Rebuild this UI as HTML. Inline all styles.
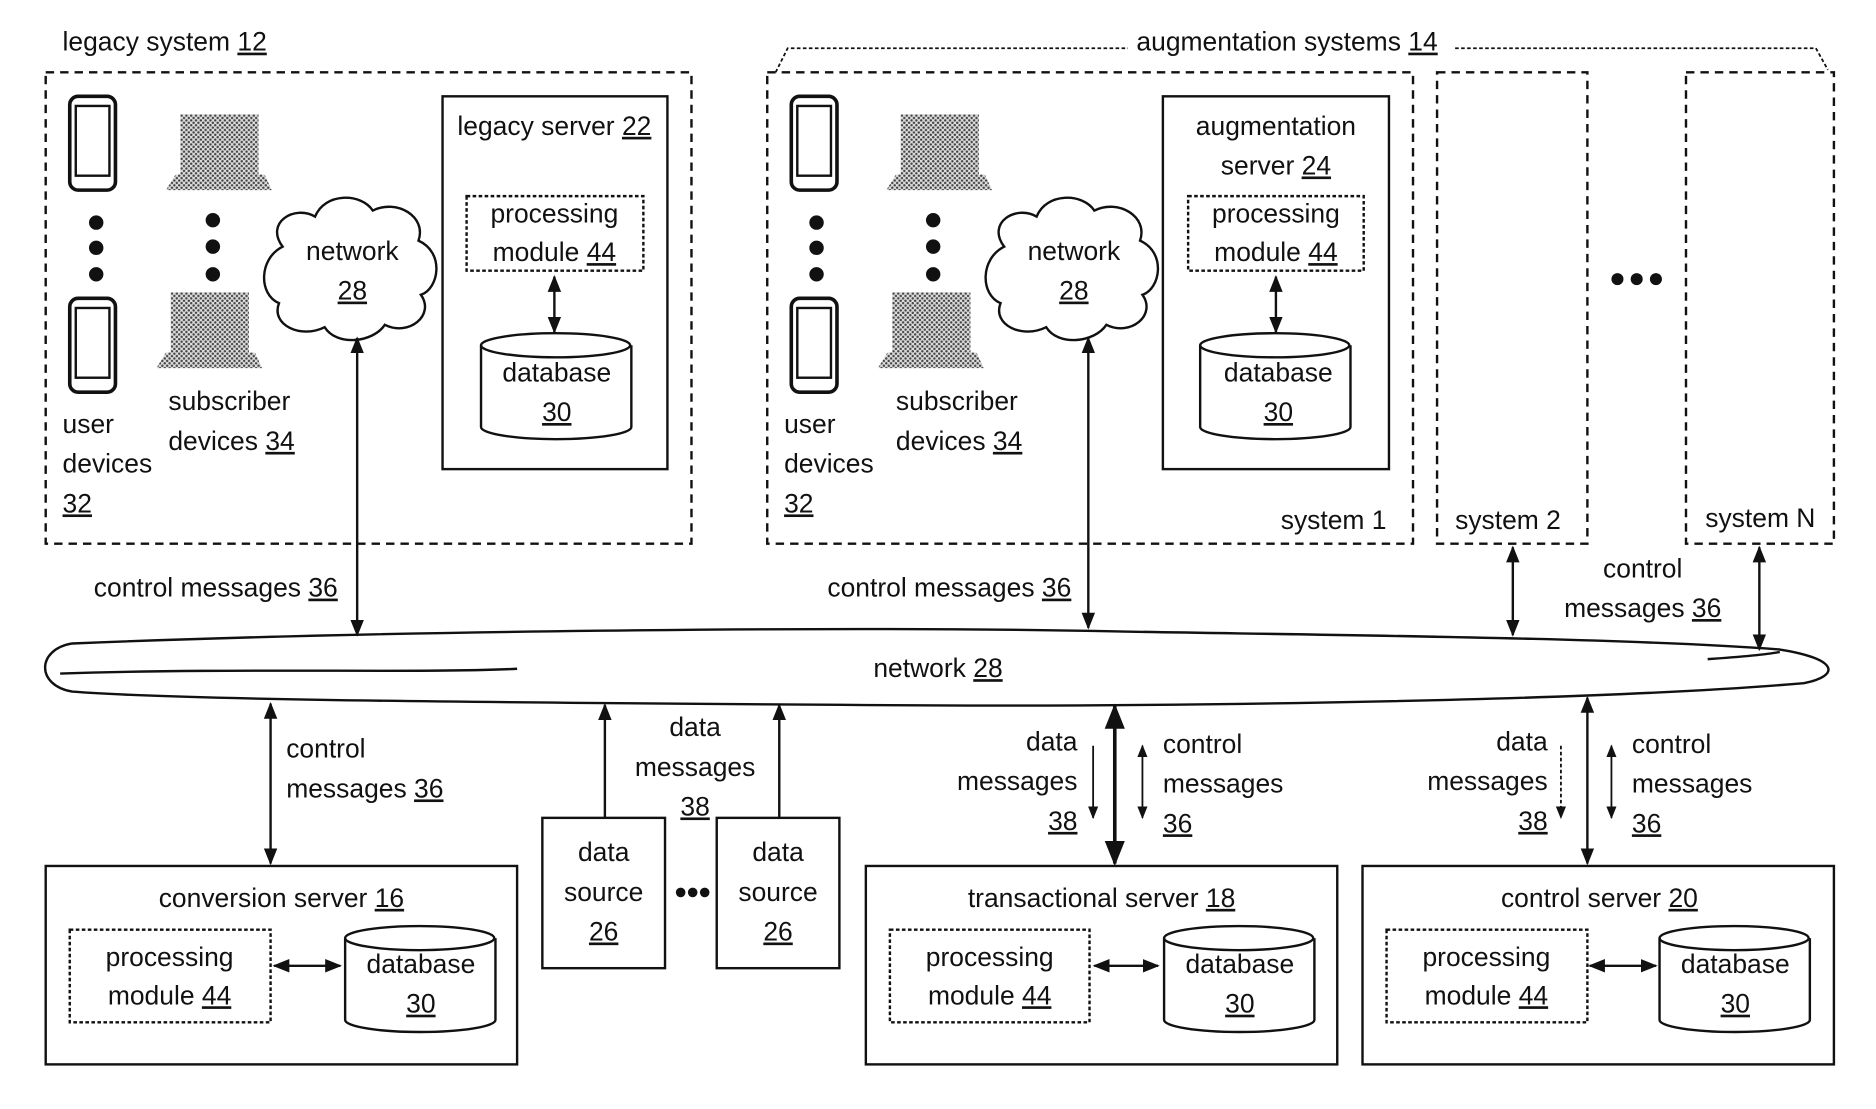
<!DOCTYPE html>
<html><head><meta charset="utf-8"><style>
html,body{margin:0;padding:0;background:#fff;}
svg{display:block;}
text{font-family:"Liberation Sans",sans-serif;font-size:22px;fill:#111;}
.u{text-decoration:underline;}
</style></head><body>
<svg width="1876" height="1109" viewBox="0 0 1560 922" xmlns="http://www.w3.org/2000/svg">
<defs>
<marker id="a" viewBox="0 0 10 10" refX="9" refY="5" markerWidth="7" markerHeight="7" orient="auto-start-reverse"><path d="M0,1 L10,5 L0,9 z" fill="#111"/></marker>
<pattern id="p" width="4" height="4" patternUnits="userSpaceOnUse"><rect width="4" height="4" fill="#ddd"/><circle cx="1" cy="1" r="1" fill="#444"/><circle cx="3" cy="3" r="1" fill="#444"/></pattern>
<g id="phone"><rect x="0" y="0" width="38" height="78" rx="7" fill="#fff" stroke="#111" stroke-width="3"/><rect x="5" y="8" width="28" height="58" fill="#fff" stroke="#111" stroke-width="2"/></g>
<g id="lap1"><rect x="12" y="0" width="65" height="50" fill="url(#p)"/><path d="M8,50 L82,50 L88,63 L0,63 z" fill="url(#p)"/></g>
</defs>
<g fill="none" stroke="#111" stroke-width="2">
<rect x="38" y="60" width="537" height="392" stroke-dasharray="7,5"/>
<rect x="368" y="80" width="187" height="310"/>
<rect x="388" y="163" width="147" height="62" stroke-dasharray="3,2"/>
<rect x="638" y="60" width="537" height="392" stroke-dasharray="7,5"/>
<rect x="967" y="80" width="188" height="310"/>
<rect x="988" y="163" width="146" height="62" stroke-dasharray="3,2"/>
<rect x="1195" y="60" width="125" height="392" stroke-dasharray="7,5"/>
<rect x="1402" y="60" width="123" height="392" stroke-dasharray="7,5"/>
<path d="M645,60 L655,40 L938,40 M1210,40 L1510,40 L1520,58" stroke-dasharray="3,2" stroke-width="1.5"/>
<rect x="38" y="720" width="392" height="165"/>
<rect x="58" y="773" width="167" height="77" stroke-dasharray="3,2"/>
<rect x="451" y="680" width="102" height="125"/>
<rect x="596" y="680" width="102" height="125"/>
<rect x="720" y="720" width="392" height="165"/>
<rect x="740" y="773" width="166" height="77" stroke-dasharray="3,2"/>
<rect x="1133" y="720" width="392" height="165"/>
<rect x="1153" y="773" width="167" height="77" stroke-dasharray="3,2"/>
<path d="M60,535 C300,525 700,520 930,525 C1100,528 1350,530 1480,540 C1530,548 1530,562 1500,568 C1300,585 900,588 700,586 C400,584 150,582 60,575 C30,570 30,540 60,535 z" fill="#fff"/>
<path d="M50,560 C200,555 350,560 430,556"/>
<path d="M1420,548 C1450,546 1470,544 1480,542"/>
<path d="M235,205 C220,185 245,170 262,180 C270,160 300,160 310,175 C330,165 355,180 348,200 C370,210 365,240 350,245 C362,262 340,280 320,270 C310,285 280,288 270,272 C250,282 225,270 232,252 C215,245 215,215 235,205 z" fill="#fff"/>
<path d="M835,205 C820,185 845,170 862,180 C870,160 900,160 910,175 C930,165 955,180 948,200 C970,210 965,240 950,245 C962,262 940,280 920,270 C910,285 880,288 870,272 C850,282 825,270 832,252 C815,245 815,215 835,205 z" fill="#fff"/>
<g id="cyl"><path d="M400,287 L400,355 A62,10 0 0 0 525,355 L525,287"/><ellipse cx="462" cy="287" rx="62" ry="10"/></g>
<use href="#cyl" x="598"/>
<use href="#cyl" x="-113" y="493"/>
<use href="#cyl" x="568" y="493"/>
<use href="#cyl" x="980" y="493"/>
<g marker-start="url(#a)" marker-end="url(#a)">
<line x1="461" y1="230" x2="461" y2="276"/>
<line x1="1061" y1="230" x2="1061" y2="276"/>
<line x1="297" y1="281" x2="297" y2="528"/>
<line x1="905" y1="281" x2="905" y2="522"/>
<line x1="1258" y1="455" x2="1258" y2="528"/>
<line x1="1463" y1="455" x2="1463" y2="540"/>
<line x1="225" y1="585" x2="225" y2="718"/>
<line x1="927" y1="587" x2="927" y2="718" stroke-width="3"/>
<line x1="1320" y1="580" x2="1320" y2="718"/>
<line x1="228" y1="803" x2="283" y2="803"/>
<line x1="910" y1="803" x2="963" y2="803"/>
<line x1="1322" y1="803" x2="1377" y2="803"/>
<line x1="950" y1="620" x2="950" y2="680" stroke-width="1.5"/>
<line x1="1340" y1="620" x2="1340" y2="680" stroke-width="1.5"/>
</g>
<g marker-end="url(#a)">
<line x1="503" y1="680" x2="503" y2="586"/>
<line x1="648" y1="680" x2="648" y2="586"/>
<line x1="909" y1="620" x2="909" y2="680" stroke-width="1.5"/>
<line x1="1298" y1="620" x2="1298" y2="680" stroke-width="1.5" stroke-dasharray="3,2"/>
</g>
</g>
<use href="#phone" x="58" y="80"/><use href="#phone" x="58" y="248"/>
<use href="#phone" x="658" y="80"/><use href="#phone" x="658" y="248"/>
<use href="#lap1" x="138" y="95"/><use href="#lap1" x="130" y="243"/>
<use href="#lap1" x="737" y="95"/><use href="#lap1" x="730" y="243"/>
<g fill="#111">
<circle cx="80" cy="185" r="6"/><circle cx="80" cy="206" r="6"/><circle cx="80" cy="228" r="6"/>
<circle cx="177" cy="183" r="6"/><circle cx="177" cy="205" r="6"/><circle cx="177" cy="228" r="6"/>
<circle cx="679" cy="185" r="6"/><circle cx="679" cy="206" r="6"/><circle cx="679" cy="228" r="6"/>
<circle cx="776" cy="183" r="6"/><circle cx="776" cy="205" r="6"/><circle cx="776" cy="228" r="6"/>
<circle cx="1345" cy="232" r="5"/><circle cx="1361" cy="232" r="5"/><circle cx="1377" cy="232" r="5"/>
<circle cx="566" cy="742" r="4"/><circle cx="576" cy="742" r="4"/><circle cx="586" cy="742" r="4"/>
</g>
<text x="52" y="42">legacy system <tspan class="u">12</tspan></text>
<text x="945" y="42">augmentation systems <tspan class="u">14</tspan></text>
<text x="52" y="360">user</text><text x="52" y="393">devices</text><text x="52" y="426" class="u">32</text>
<text x="140" y="341">subscriber</text><text x="140" y="374">devices <tspan class="u">34</tspan></text>
<text x="652" y="360">user</text><text x="652" y="393">devices</text><text x="652" y="426" class="u">32</text>
<text x="745" y="341">subscriber</text><text x="745" y="374">devices <tspan class="u">34</tspan></text>
<g text-anchor="middle">
<text x="293" y="216">network</text><text x="293" y="249" class="u">28</text>
<text x="893" y="216">network</text><text x="893" y="249" class="u">28</text>
<text x="461" y="112">legacy server <tspan class="u">22</tspan></text>
<text x="461" y="185">processing</text><text x="461" y="217">module <tspan class="u">44</tspan></text>
<text x="463" y="317">database</text><text x="463" y="350" class="u">30</text>
<text x="1061" y="112">augmentation</text><text x="1061" y="145">server <tspan class="u">24</tspan></text>
<text x="1061" y="185">processing</text><text x="1061" y="217">module <tspan class="u">44</tspan></text>
<text x="1063" y="317">database</text><text x="1063" y="350" class="u">30</text>
<text x="780" y="563">network <tspan class="u">28</tspan></text>
<text x="578" y="612">data</text><text x="578" y="645">messages</text><text x="578" y="678" class="u">38</text>
<text x="502" y="716">data</text><text x="502" y="749">source</text><text x="502" y="782" class="u">26</text>
<text x="647" y="716">data</text><text x="647" y="749">source</text><text x="647" y="782" class="u">26</text>
<text x="234" y="754">conversion server <tspan class="u">16</tspan></text>
<text x="141" y="803">processing</text><text x="141" y="835">module <tspan class="u">44</tspan></text>
<text x="350" y="809">database</text><text x="350" y="842" class="u">30</text>
<text x="916" y="754">transactional server <tspan class="u">18</tspan></text>
<text x="823" y="803">processing</text><text x="823" y="835">module <tspan class="u">44</tspan></text>
<text x="1031" y="809">database</text><text x="1031" y="842" class="u">30</text>
<text x="1330" y="754">control server <tspan class="u">20</tspan></text>
<text x="1236" y="803">processing</text><text x="1236" y="835">module <tspan class="u">44</tspan></text>
<text x="1443" y="809">database</text><text x="1443" y="842" class="u">30</text>
<text x="1366" y="480">control</text><text x="1366" y="513">messages <tspan class="u">36</tspan></text>
</g>
<text x="1065" y="440">system 1</text>
<text x="1210" y="440">system 2</text>
<text x="1418" y="438">system N</text>
<text x="78" y="496">control messages <tspan class="u">36</tspan></text>
<text x="688" y="496">control messages <tspan class="u">36</tspan></text>
<text x="238" y="630">control</text><text x="238" y="663">messages <tspan class="u">36</tspan></text>
<g text-anchor="end">
<text x="896" y="624">data</text><text x="896" y="657">messages</text><text x="896" y="690" class="u">38</text>
<text x="1287" y="624">data</text><text x="1287" y="657">messages</text><text x="1287" y="690" class="u">38</text>
</g>
<text x="967" y="626">control</text><text x="967" y="659">messages</text><text x="967" y="692" class="u">36</text>
<text x="1357" y="626">control</text><text x="1357" y="659">messages</text><text x="1357" y="692" class="u">36</text>
</svg>
</body></html>
